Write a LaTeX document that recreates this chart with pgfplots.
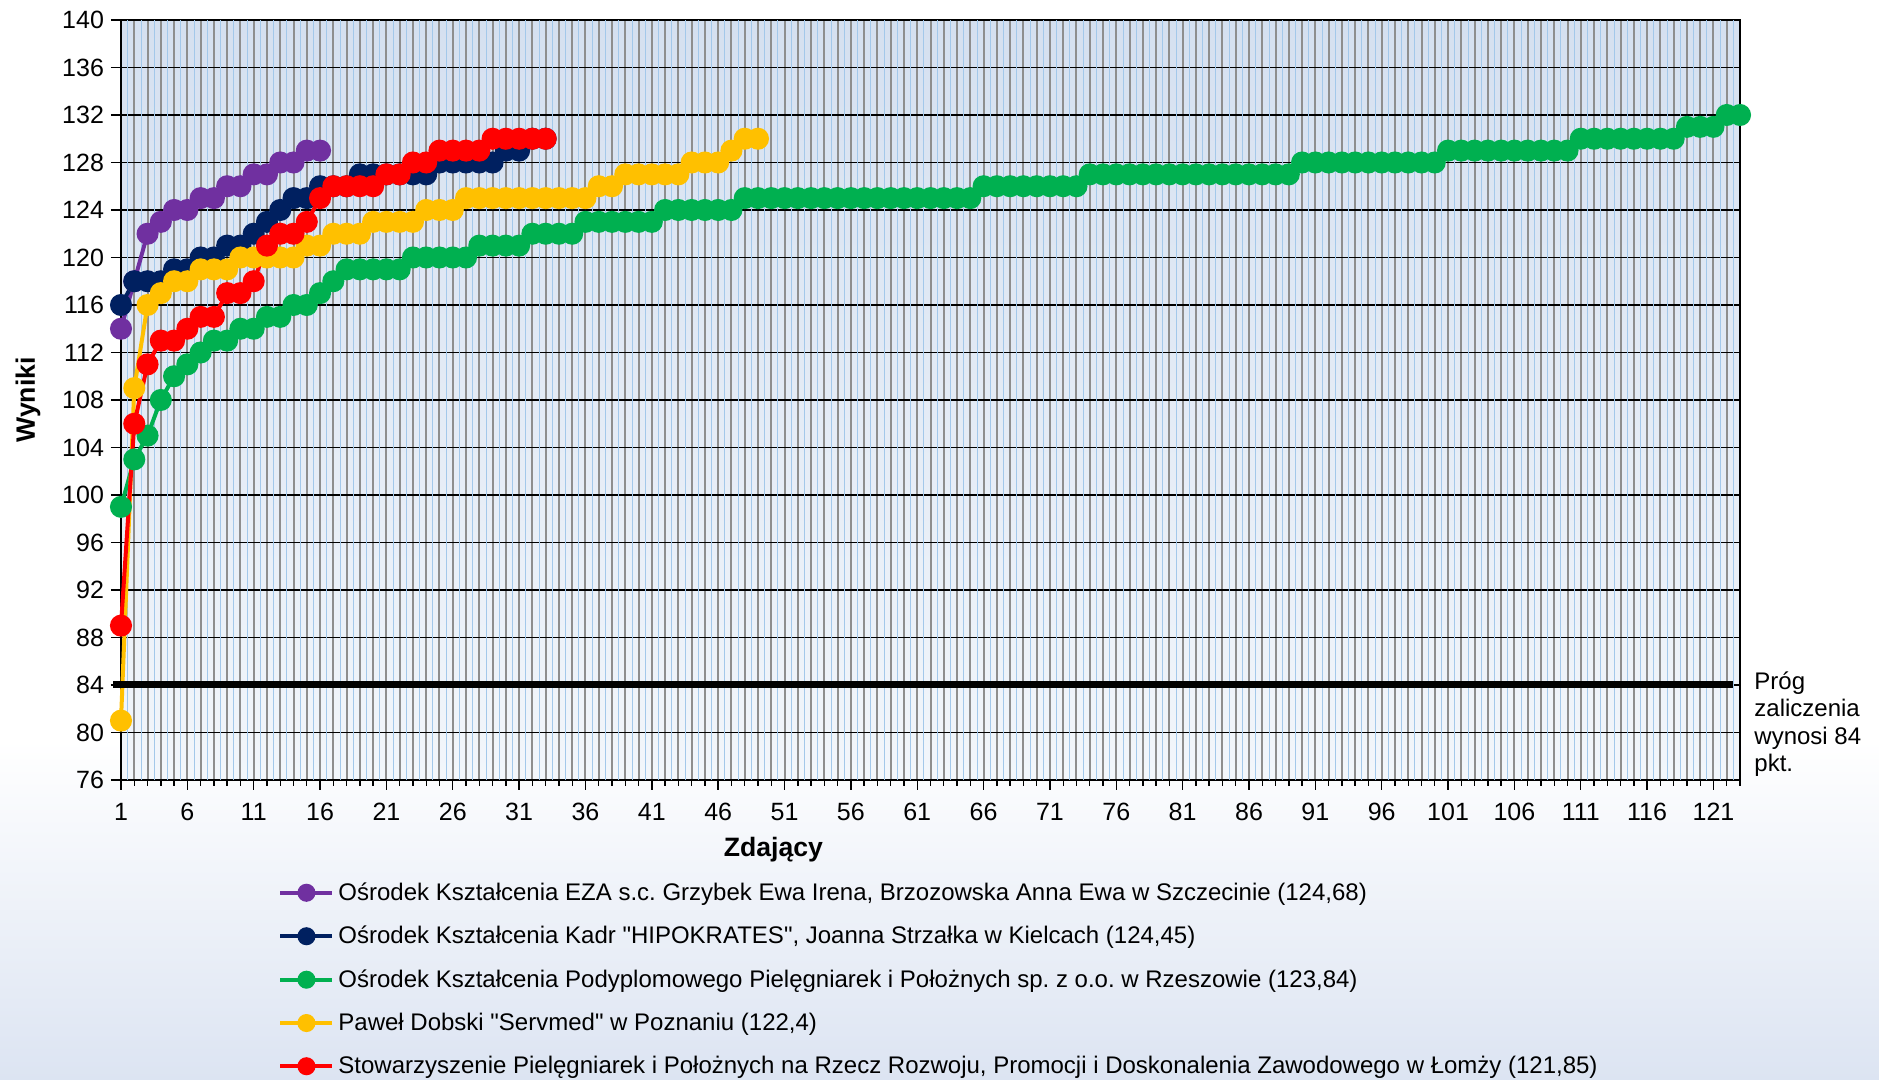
\documentclass[border=0pt]{standalone}
\usepackage{fontspec}
\setmainfont{Liberation Sans}[Ligatures=TeXOff]
\usepackage{pgfplots}
\usepackage{pgfplotstable}
\pgfplotsset{compat=1.18}
\frenchspacing
\definecolor{cpurple}{HTML}{7030A0}
\definecolor{cnavy}{HTML}{002060}
\definecolor{cgreen}{HTML}{00B050}
\definecolor{cyellow}{HTML}{FFC000}
\definecolor{cred}{HTML}{FF0000}
\definecolor{plottop}{HTML}{D5E0F0}
\definecolor{plotbot}{HTML}{F2F6FB}
\definecolor{figbot}{HTML}{DCE4F2}
\definecolor{vgrid}{HTML}{8E8E8E}
\definecolor{bgrid}{HTML}{A3C8EA}

\pgfplotstableread{
v
114
118
122
123
124
124
125
125
126
126
127
127
128
128
129
129
}\purpledata

\pgfplotstableread{
v
116
118
118
118
119
119
120
120
121
121
122
123
124
125
125
126
126
126
127
127
127
127
127
127
128
128
128
128
128
129
129
130
130
}\navydata

\pgfplotstableread{
v
99
103
105
108
110
111
112
113
113
114
114
115
115
116
116
117
118
119
119
119
119
119
120
120
120
120
120
121
121
121
121
122
122
122
122
123
123
123
123
123
123
124
124
124
124
124
124
125
125
125
125
125
125
125
125
125
125
125
125
125
125
125
125
125
125
126
126
126
126
126
126
126
126
127
127
127
127
127
127
127
127
127
127
127
127
127
127
127
127
128
128
128
128
128
128
128
128
128
128
128
129
129
129
129
129
129
129
129
129
129
130
130
130
130
130
130
130
130
131
131
131
132
132
}\greendata

\pgfplotstableread{
v
81
109
116
117
118
118
119
119
119
120
120
120
120
120
121
121
122
122
122
123
123
123
123
124
124
124
125
125
125
125
125
125
125
125
125
125
126
126
127
127
127
127
127
128
128
128
129
130
130
}\yellowdata

\pgfplotstableread{
v
89
106
111
113
113
114
115
115
117
117
118
121
122
122
123
125
126
126
126
126
127
127
128
128
129
129
129
129
130
130
130
130
130
}\reddata

\begin{document}
\begin{tikzpicture}
\useasboundingbox (0,0) rectangle (939.5pt,540pt);
\fill[white] (0,0) rectangle (939.5pt,540pt);
\shade[top color=white, bottom color=figbot] (0,0) rectangle (939.5pt,170pt);
\begin{axis}[
  at={(60.5pt,150pt)}, anchor=south west,
  scale only axis, width=809.5pt, height=380pt,
  xmin=1, xmax=123, ymin=76, ymax=140,
  clip=false,
  axis background/.style={top color=plottop, bottom color=plotbot},
  axis line style={black, line width=1pt},
  xtick={1,6,...,121},
  minor xtick={1,...,123},
  ytick={76,80,...,140},
  extra x ticks={1.5,2.5,...,122.5},
  extra x tick labels={},
  extra x tick style={grid=major, major grid style={bgrid, line width=0.4pt}, major tick length=0pt},
  xminorgrids, ymajorgrids,
  minor grid style={vgrid, line width=1pt},
  major grid style={black, line width=0.7pt},
  tick align=outside,
  major tick length=5pt, minor tick length=3pt,
  tick style={black, line width=0.7pt},
  xtick pos=bottom, ytick pos=left,
  /pgf/number format/assume math mode=true,
  ticklabel style={font=\fontsize{12.5}{14}\selectfont},
  xticklabel style={yshift=-3pt},
  xlabel={\textbf{Zdający}},
  ylabel={\textbf{Wyniki}},
  label style={font=\fontsize{13.3}{15}\selectfont},
  xlabel style={at={(axis description cs:0.403,-0.092)}, anchor=center},
  ylabel style={at={(axis description cs:-0.0575,0.5)}, anchor=center, rotate=0},
  every axis plot/.append style={line width=2pt, mark=*, mark size=4.5pt, mark options={solid}},
  legend image code/.code={\draw[mark repeat=2, mark phase=2, mark size=3.5pt] plot coordinates {(0pt,0pt) (13pt,0pt) (26pt,0pt)};},
  legend style={at={(axis description cs:0.097,-0.129)}, anchor=north west,
    draw=none, fill=none, inner sep=0pt,
    font=\fontsize{12}{14}\selectfont, row sep=7.4pt,
    legend cell align=left},
]
\addplot[cpurple] table[x expr=\coordindex+1, y=v] {\purpledata};
\addlegendentry{Ośrodek Kształcenia EZA s.c. Grzybek Ewa Irena, Brzozowska Anna Ewa w Szczecinie (124,68)}
\addplot[cnavy] table[x expr=\coordindex+1, y=v] {\navydata};
\addlegendentry{Ośrodek Kształcenia Kadr "HIPOKRATES", Joanna Strzałka w Kielcach (124,45)}
\addplot[cgreen] table[x expr=\coordindex+1, y=v] {\greendata};
\addlegendentry{Ośrodek Kształcenia Podyplomowego Pielęgniarek i Położnych sp. z o.o. w Rzeszowie (123,84)}
\addplot[cyellow] table[x expr=\coordindex+1, y=v] {\yellowdata};
\addlegendentry{Paweł Dobski "Servmed" w Poznaniu (122,4)}
\addplot[cred] table[x expr=\coordindex+1, y=v] {\reddata};
\addlegendentry{Stowarzyszenie Pielęgniarek i Położnych na Rzecz Rozwoju, Promocji i Doskonalenia Zawodowego w Łomży (121,85)}
\addplot[black, line width=3.5pt, mark=none, forget plot] coordinates {(0.4,84) (122.5,84)};
\end{axis}
\node[anchor=north west, align=left, font=\fontsize{12}{13.8}\selectfont, inner sep=0pt] at (877pt,204.5pt) {Próg\\zaliczenia\\wynosi 84\\pkt.};
\end{tikzpicture}
\end{document}
